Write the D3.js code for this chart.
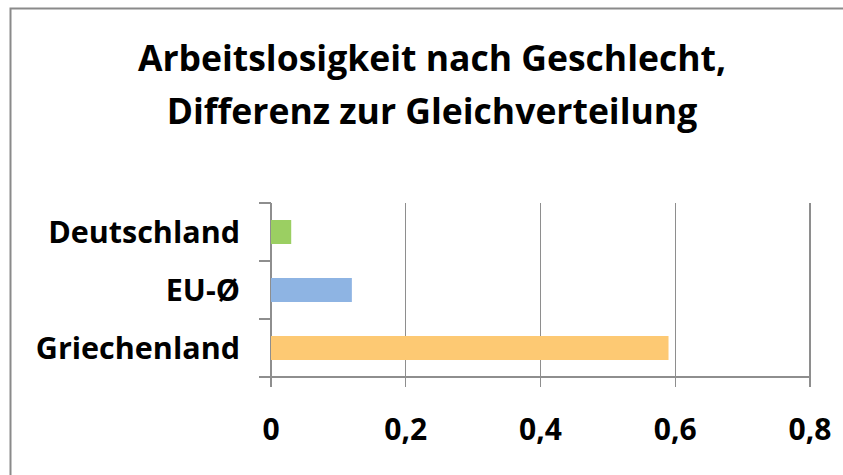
<!DOCTYPE html>
<meta charset="utf-8">
<html>
<head>
<title>Arbeitslosigkeit nach Geschlecht</title>
<script src="https://cdn.jsdelivr.net/npm/d3@7"></script>
<style>
body {
	margin: 0;
	background-color: white;
}
#chart {
	font-family: "Open Sans", Lato, sans-serif;
	font-weight: bold;
}
.grid line, .axis line {
	stroke: #8e8e8e;
	stroke-width: 1.3px;
	shape-rendering: crispEdges;
}
</style>
</head>
<body>
<svg id="chart"></svg>

<script>
'use strict'

// data
const categories = ["Deutschland", "EU-Ø", "Griechenland"]
const values     = [0.03, 0.12, 0.59]
const barColors  = ["#9bcf62", "#8eb4e3", "#fdc973"]
const xTicks     = [0, 0.2, 0.4, 0.6, 0.8]
const titleLines = ["Arbeitslosigkeit nach Geschlecht,", "Differenz zur Gleichverteilung"]

const width  = 843,
      height = 475,
      margin = {top: 203, right: 33, bottom: 98, left: 271}

const svg = d3.select("#chart")
	.attr("width", width)
	.attr("height", height)

// outer frame of the chart area (runs off the right and bottom edge)
svg.append("rect")
	.attr("x", 10.5)
	.attr("y", 8.5)
	.attr("width", width + 20)
	.attr("height", height + 20)
	.attr("fill", "white")
	.attr("stroke", "#8a8a8a")
	.attr("stroke-width", 2)

// title
svg.append("text")
	.attr("text-anchor", "middle")
	.attr("font-size", 35.5)
	.selectAll("tspan")
	.data(titleLines)
	.enter().append("tspan")
		.attr("x", 432)
		.attr("y", (d, i) => 71 + i * 53.3)
		.text(d => d)

const x = d3.scaleLinear()
	.domain([0, 0.8])
	.range([margin.left, width - margin.right])

const y = d3.scaleBand()
	.domain(categories)
	.range([margin.top, height - margin.bottom])

const plotBottom = height - margin.bottom

// vertical gridlines + ticks below the x axis
svg.append("g")
	.attr("class", "grid")
	.selectAll("line")
	.data(xTicks)
	.enter().append("line")
		.attr("x1", d => x(d))
		.attr("x2", d => x(d))
		.attr("y1", margin.top)
		.attr("y2", plotBottom + 10)

// x axis line, extended left to the category tick length
const axis = svg.append("g").attr("class", "axis")
axis.append("line")
	.attr("x1", margin.left - 12)
	.attr("x2", x(0.8))
	.attr("y1", plotBottom)
	.attr("y2", plotBottom)

// category ticks on band boundaries
const bounds = categories.map(c => y(c))
axis.selectAll("line.ytick")
	.data(bounds)
	.enter().append("line")
		.attr("class", "ytick")
		.attr("x1", margin.left - 12)
		.attr("x2", margin.left)
		.attr("y1", d => d)
		.attr("y2", d => d)

// bars
const barH = 24
svg.append("g")
	.selectAll("rect")
	.data(categories)
	.enter().append("rect")
		.attr("x", x(0))
		.attr("y", d => y(d) + y.bandwidth() / 2 - barH / 2)
		.attr("width", (d, i) => x(values[i]) - x(0))
		.attr("height", barH)
		.attr("fill", (d, i) => barColors[i])

// category labels
svg.append("g")
	.selectAll("text")
	.data(categories)
	.enter().append("text")
		.attr("x", margin.left - 31)
		.attr("y", d => y(d) + y.bandwidth() / 2 + 11)
		.attr("text-anchor", "end")
		.attr("font-size", 30.5)
		.text(d => d)

// x tick labels (decimal comma)
const fmt = d3.formatLocale({decimal: ",", thousands: ".", grouping: [3], currency: ["", "€"]}).format(".1~f")
svg.append("g")
	.selectAll("text")
	.data(xTicks)
	.enter().append("text")
		.attr("x", d => x(d))
		.attr("y", 440)
		.attr("text-anchor", "middle")
		.attr("font-size", 30)
		.text(d => d === 0 ? "0" : fmt(d))
</script>
</body>
</html>
